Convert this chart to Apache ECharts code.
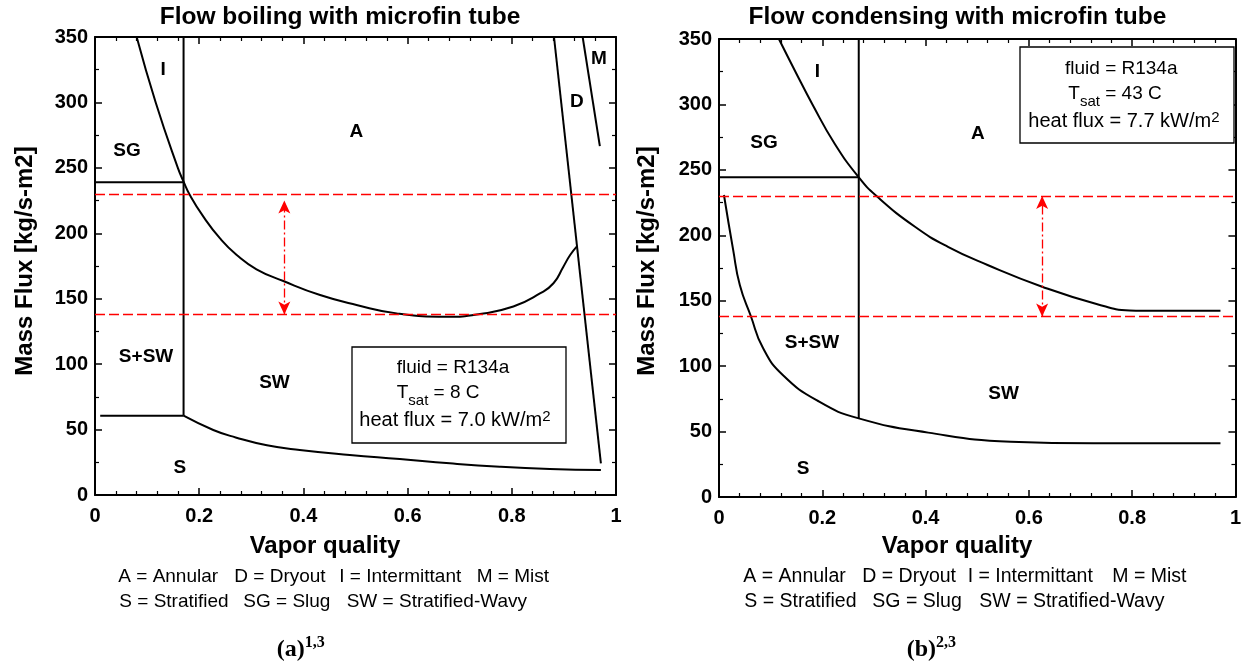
<!DOCTYPE html>
<html>
<head>
<meta charset="utf-8">
<script src="https://cdn.jsdelivr.net/npm/echarts@6/dist/echarts.min.js"></script>
<style>
html,body{margin:0;padding:0;background:#fff;}
#chart{width:1244px;height:661px;}
</style>
</head>
<body>
<div id="chart"></div>
<script>
// ---------- DATA ----------
const xTicks = [0, 0.2, 0.4, 0.6, 0.8, 1];
const yTicks = [0, 50, 100, 150, 200, 250, 300, 350];
const flowRange = [138, 230];

// (a) Flow boiling
const boilIAcurve = [[0.080,350],[0.1165,300],[0.159,250],[0.170,239.5],[0.182,229.3],[0.208,212.7],[0.240,196.1],[0.272,183.4],[0.310,172.5],[0.3615,163.5],[0.432,152.8],[0.502,145.2],[0.579,138.8],[0.675,136.2],[0.739,138.3],[0.803,144],[0.854,154],[0.880,161.8],[0.899,174.5],[0.912,183.4],[0.925,190]];
const boilSGline = [[0,239],[0.17,239]];
const boilVline = [[0.17,350],[0.17,60.6]];
const boilSflat = [[0.01,60.6],[0.17,60.6]];
const boilScurve = [[0.17,60.6],[0.227,49.7],[0.27,44],[0.33,38],[0.393,34.4],[0.489,30.6],[0.585,27.5],[0.681,24.2],[0.777,21.6],[0.873,19.9],[0.971,19.1]];
const boilDline = [[0.881,350],[0.971,24.2]];
const boilMline = [[0.936,350],[0.969,266.6]];
const boilArrow = [0.3634, 138, 225];
const boilLabels = [['I',0.131,324.8],['SG',0.0614,262.9],['A',0.5016,277.6],['D',0.925,300.6],['M',0.967,333.7],['S+SW',0.098,106],['SW',0.3445,86.1],['S',0.163,20.8]];

// (b) Flow condensing
const condIAcurve = [[0.116,350],[0.148,325],[0.181,300],[0.224,270],[0.2706,244.3],[0.305,230],[0.3795,206.5],[0.4434,191.2],[0.520,177.3],[0.6257,160.7],[0.731,147.5],[0.795,142.6],[0.82,142.4],[0.971,142.4]];
const condSGline = [[0,244.3],[0.2706,244.3]];
const condVline = [[0.2706,350],[0.2706,60]];
const condScurve = [[0.0096,230.8],[0.0275,188.7],[0.0403,162],[0.0614,138.5],[0.085,114],[0.1235,93.2],[0.194,72.8],[0.2706,60.1],[0.405,49.2],[0.565,42.3],[0.725,41],[0.971,41]];
const condArrow = [0.6257, 138, 230];
const condLabels = [['I',0.1906,325],['SG',0.0873,270.5],['A',0.501,277.4],['S+SW',0.180,117.7],['SW',0.551,79.2],['S',0.163,21.4]];

const titles = ['Flow boiling with microfin tube', 'Flow condensing with microfin tube'];
const xName = 'Vapor quality';
const yName = 'Mass Flux [kg/s-m2]';
const legendLine1 = ['A = Annular', 'D = Dryout', 'I = Intermittant', 'M = Mist'];
const legendLine2 = ['S = Stratified', 'SG = Slug', 'SW = Stratified-Wavy'];
const infoA = ['fluid = R134a', '8 C', '7.0 kW/m'];
const infoB = ['fluid = R134a', '43 C', '7.7 kW/m'];

// ---------- CHART ----------
const FONT = "'Liberation Sans', Arial, Helvetica, sans-serif";
const SERIF = "'Liberation Serif', 'Times New Roman', serif";
const chart = echarts.init(document.getElementById('chart'), null, {renderer:'canvas'});

const grids = [
  {left:95, top:37, width:521, height:458},
  {left:719, top:39, width:521, height:458}
];

function xAxisDef(g, pos){
  return {
    type:'value', gridIndex:g, position:pos, min:0, max:1, interval:0.2,
    axisLine:{show:true, onZero:false, lineStyle:{color:'#000', width:2}},
    axisTick:{show:true, inside:true, length:7, lineStyle:{color:'#000', width:1.5}},
    minorTick:{show:true, splitNumber:5, length:4, lineStyle:{color:'#000', width:1.2}},
    splitLine:{show:false},
    axisLabel:{show: pos==='bottom', margin:11, color:'#000', fontSize:20, fontWeight:'bold', fontFamily:FONT,
      formatter: v => (v===0 ? '0' : (v===1 ? '1' : v.toFixed(1)))}
  };
}
function yAxisDef(g, pos){
  return {
    type:'value', gridIndex:g, position:pos, min:0, max:350, interval:50,
    axisLine:{show:true, onZero:false, lineStyle:{color:'#000', width:2}},
    axisTick:{show:true, inside:true, length:7, lineStyle:{color:'#000', width:1.5}},
    minorTick:{show:true, splitNumber:2, length:4, lineStyle:{color:'#000', width:1.2}},
    splitLine:{show:false},
    axisLabel:{show: pos==='left', margin:7, color:'#000', fontSize:20, fontWeight:'bold', fontFamily:FONT}
  };
}

const xAxes = [xAxisDef(0,'bottom'), xAxisDef(0,'top'), xAxisDef(1,'bottom'), xAxisDef(1,'top')];
const yAxes = [yAxisDef(0,'left'), yAxisDef(0,'right'), yAxisDef(1,'left'), yAxisDef(1,'right')];

function lineSeries(data, g, smooth){
  return {
    type:'line', data:data, xAxisIndex: g*2, yAxisIndex: g*2,
    showSymbol:false, symbol:'none', smooth: smooth ? 0.5 : false,
    lineStyle:{color:'#000', width:2}, silent:true, z:3
  };
}
function rangeSeries(g){
  return {
    type:'line', data:[], xAxisIndex:g*2, yAxisIndex:g*2, silent:true, z:4,
    markLine:{
      silent:true, symbol:'none', animation:false,
      label:{show:false},
      lineStyle:{color:'#ff0000', type:[10,4], width:1.3},
      data: flowRange.map(v => ({yAxis:v}))
    }
  };
}
function arrowSeries(g, arrow){
  return {
    type:'line', data:[], xAxisIndex:g*2, yAxisIndex:g*2, silent:true, z:4,
    markLine:{
      silent:true, symbol:['arrow','arrow'], symbolSize:[9,13], animation:false,
      label:{show:false},
      lineStyle:{color:'#ff0000', type:[9,3,2,3], width:1.3},
      data: [[{coord:[arrow[0], arrow[1]]}, {coord:[arrow[0], arrow[2]]}]]
    }
  };
}
function labelSeries(labels, g){
  return {
    type:'scatter', xAxisIndex:g*2, yAxisIndex:g*2, symbolSize:0, silent:true, z:5,
    itemStyle:{opacity:1},
    data: labels.map(l => ({value:[l[1], l[2]], name:l[0]})),
    label:{show:true, position:'inside', formatter: p => p.name, color:'#000', opacity:1, textBorderWidth:0,
      fontSize:19, fontWeight:'bold', fontFamily:FONT}
  };
}

const series = [
  lineSeries(boilIAcurve,0,true), lineSeries(boilSGline,0,false), lineSeries(boilVline,0,false),
  lineSeries(boilSflat,0,false), lineSeries(boilScurve,0,true),
  lineSeries(boilDline,0,false), lineSeries(boilMline,0,false),
  rangeSeries(0), arrowSeries(0, boilArrow), labelSeries(boilLabels,0),
  lineSeries(condIAcurve,1,true), lineSeries(condSGline,1,false), lineSeries(condVline,1,false),
  lineSeries(condScurve,1,true),
  rangeSeries(1), arrowSeries(1, condArrow), labelSeries(condLabels,1)
];

function txt(x, y, text, opts){
  return {type:'text', x:x, y:y, silent:true, z:10,
    style:Object.assign({text:text, fill:'#000', fontFamily:FONT, fontSize:19, align:'left', verticalAlign:'middle'}, opts||{})};
}

const graphics = [];
// titles
graphics.push(txt(340, 17, titles[0], {fontSize:24.5, fontWeight:'bold', align:'center'}));
graphics.push(txt(957.5, 17, titles[1], {fontSize:24.5, fontWeight:'bold', align:'center'}));
// axis names
graphics.push(txt(325, 546, xName, {fontSize:24, fontWeight:'bold', align:'center'}));
graphics.push(txt(957, 546, xName, {fontSize:24, fontWeight:'bold', align:'center'}));
graphics.push(Object.assign(txt(25, 261, yName, {fontSize:24, fontWeight:'bold', align:'center'}), {rotation:Math.PI/2}));
graphics.push(Object.assign(txt(647, 261, yName, {fontSize:24, fontWeight:'bold', align:'center'}), {rotation:Math.PI/2}));
// legends
const l1xA = [118.3, 234.3, 339.3, 476.7], l2xA = [119.3, 243.3, 346.7];
const l1xB = [743.3, 862.3, 967.7, 1112.3], l2xB = [744.3, 872.3, 979.3];
legendLine1.forEach((t,i)=>{ graphics.push(txt(l1xA[i], 577, t, {fontSize:19})); graphics.push(txt(l1xB[i], 577, t, {fontSize:19.5})); });
legendLine2.forEach((t,i)=>{ graphics.push(txt(l2xA[i], 602, t, {fontSize:19})); graphics.push(txt(l2xB[i], 602, t, {fontSize:19.5})); });
// captions
const capRich = {m:{fontFamily:SERIF, fontSize:24, fontWeight:'bold', lineHeight:30}, s:{fontFamily:SERIF, fontSize:16, fontWeight:'bold', verticalAlign:'top'}};
graphics.push(txt(276.7, 650, '{m|(a)}{s|1,3}', {rich:capRich}));
graphics.push(txt(906.7, 650, '{m|(b)}{s|2,3}', {rich:capRich}));
// info boxes
function infoBox(bx, by, bw, bh, lines, lx, ly){
  graphics.push({type:'rect', silent:true, z:8, shape:{x:bx, y:by, width:bw, height:bh}, style:{fill:'#fff', stroke:'#000', lineWidth:1.3}});
  graphics.push(txt(lx[0], ly[0], lines[0], {fontSize:19}));
  graphics.push(txt(lx[1], ly[1], '{n|T}{s|sat}{n| = ' + lines[1] + '}', {rich:{n:{fontSize:19, fontFamily:FONT, lineHeight:30}, s:{fontSize:15, fontFamily:FONT, verticalAlign:'bottom'}}}));
  graphics.push(txt(lx[2], ly[2], '{n|heat flux = ' + lines[2] + '}{p|2}', {rich:{n:{fontSize:20, fontFamily:FONT, lineHeight:22}, p:{fontSize:15, fontFamily:FONT, verticalAlign:'top'}}}));
}
infoBox(352, 347, 214, 96, infoA, [396.7, 396.7, 359.3], [368, 393, 420]);
infoBox(1020, 47, 214, 96, infoB, [1065, 1068.3, 1028.3], [69, 94, 121]);

chart.setOption({
  animation:false,
  backgroundColor:'#fff',
  grid: grids,
  xAxis: xAxes,
  yAxis: yAxes,
  series: series,
  graphic: {elements: graphics}
});
</script>
</body>
</html>
